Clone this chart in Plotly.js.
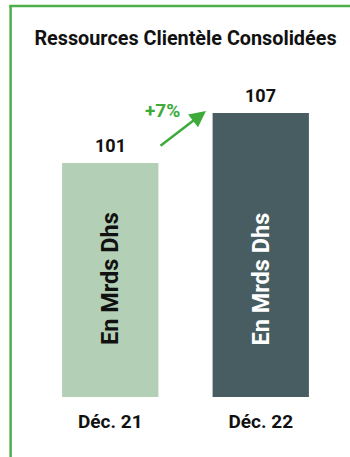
<!DOCTYPE html>
<html><head><meta charset="utf-8">
<script src="https://cdn.plot.ly/plotly-3.0.1.min.js"></script>
<style>html,body{margin:0;padding:0;background:#fff}#chart{width:350px;height:457px}</style>
</head><body><div id="chart"></div>
<script>
const categories = ["Déc. 21", "Déc. 22"];
const values = [101, 107];
const barColors = ["#b3cfb6", "#475d62"];
const barLabel = "En Mrds Dhs";
const barLabelColors = ["#111111", "#ffffff"];
const growthLabel = "+7%";
const titleText = "Ressources Clientèle Consolidées";

const FONT = "Roboto, 'DejaVu Sans', sans-serif";
const GREEN = "#3daa3a";

const trace = {
  type: "bar",
  x: categories,
  y: values,
  marker: {color: barColors},
  hoverinfo: "none"
};

const annotations = [];
categories.forEach((c, i) => {
  annotations.push({
    x: c, y: values[i], xref: "x", yref: "y",
    text: "<b>" + values[i] + "</b>", showarrow: false,
    yanchor: "bottom", yshift: 5,
    font: {family: FONT, size: 18, color: "#111"}
  });
  annotations.push({
    x: c, y: 87.1, xref: "x", yref: "y",
    text: "<b>" + barLabel + "</b>", showarrow: false, textangle: -90,
    font: {family: FONT, size: 23.5, color: barLabelColors[i]}
  });
});
annotations.push({
  x: 0.636, y: 107.24, xref: "x", yref: "y",
  ax: 0.324, ay: 102.92, axref: "x", ayref: "y",
  text: "", showarrow: true, arrowhead: 2, arrowsize: 1.3, arrowwidth: 2.5,
  arrowcolor: GREEN, standoff: 0
});
annotations.push({
  x: 0.345, y: 107.3, xref: "x", yref: "y",
  text: "<b>" + growthLabel + "</b>", showarrow: false,
  font: {family: FONT, size: 19, color: GREEN}
});

const layout = {
  width: 350, height: 457,
  margin: {l: 34.5, r: 13.5, t: 60, b: 60},
  paper_bgcolor: "#fff", plot_bgcolor: "#fff",
  showlegend: false,
  bargap: 0.36,
  title: {
    text: "<b>" + titleText + "</b>",
    x: 0.53, xanchor: "center", xref: "container",
    y: 1 - 38/457, yanchor: "middle", yref: "container",
    font: {family: FONT, size: 19.8, color: "#111"}
  },
  xaxis: {
    type: "category", range: [-0.5, 1.5], fixedrange: true,
    showline: false, showgrid: false, zeroline: false, ticks: "",
    ticklabelstandoff: 11,
    tickfont: {family: FONT, size: 19, color: "#111"},
    tickprefix: "<b>", ticksuffix: "</b>"
  },
  yaxis: {
    range: [72.92, 113.36], visible: false, fixedrange: true
  },
  annotations: annotations,
  shapes: [
    {type: "line", xref: "paper", yref: "paper", x0: -0.081, x1: -0.081, y0: 1.163, y1: -0.2, line: {color: "#4cb04a", width: 2.5}},
    {type: "line", xref: "paper", yref: "paper", x0: -0.085, x1: 1.1, y0: 1.16, y1: 1.16, line: {color: "#4cb04a", width: 2.5}}
  ]
};

Plotly.newPlot("chart", [trace], layout, {displayModeBar: false, staticPlot: true});
</script></body></html>
